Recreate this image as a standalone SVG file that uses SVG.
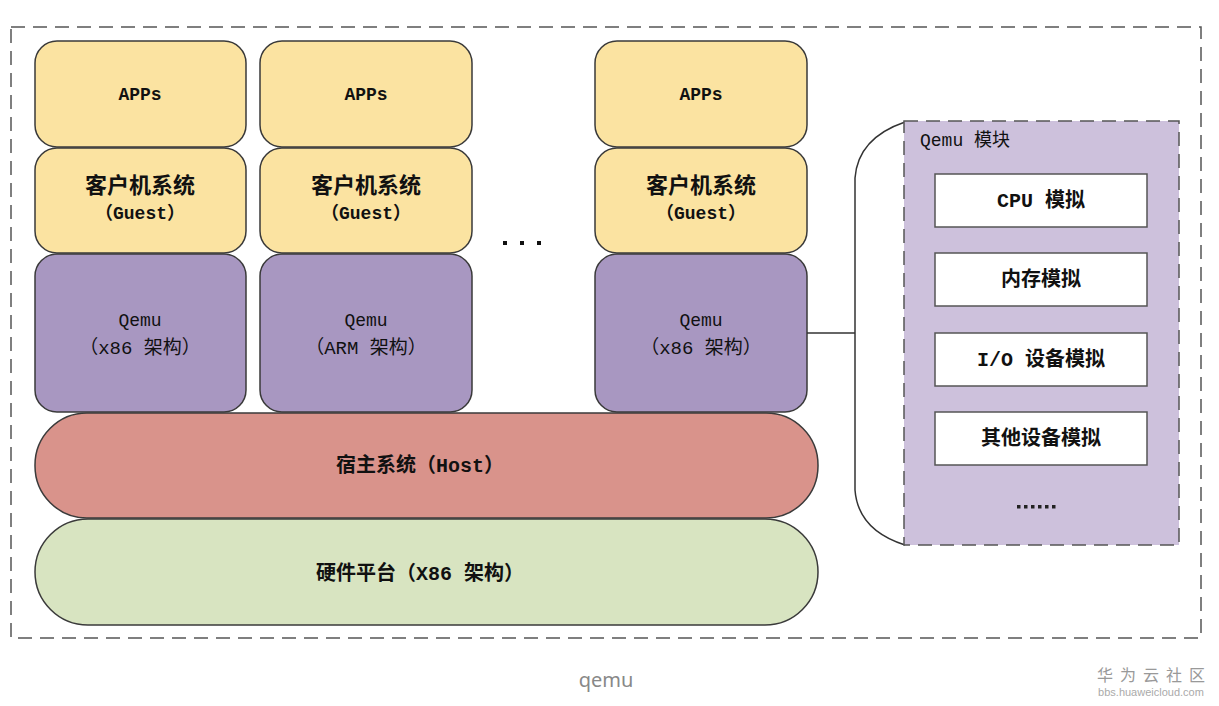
<svg xmlns="http://www.w3.org/2000/svg" width="1219" height="706" viewBox="0 0 1219 706">
<style>
.box{stroke:#3a3a3a;stroke-width:1.5}
.app{fill:#fbe3a1}
.qemu{fill:#a897c1}
.t{font-family:"Liberation Mono","Noto Sans CJK SC",monospace;fill:#111;text-anchor:middle}
.b{font-weight:bold}
.mod{fill:#fff;stroke:#555;stroke-width:1.5}
.dash{fill:none;stroke:#555;stroke-width:1.5;stroke-dasharray:14 8}
</style>
<rect width="1219" height="706" fill="#fff"/>
<rect id="outer" class="dash" x="11" y="27" width="1190" height="611"/>

<g id="col1">
<rect class="box app" x="35" y="41" width="211" height="106" rx="22"/>
<text class="t b" x="140" y="100" font-size="18">APPs</text>
<rect class="box app" x="35" y="148" width="211" height="105" rx="22"/>
<text class="t b" x="140" y="193" font-size="22">客户机系统</text>
<text class="t b" x="140" y="219" font-size="18">（Guest）</text>
<rect class="box qemu" x="35" y="254" width="211" height="158" rx="22"/>
<text class="t" x="140" y="326" font-size="18">Qemu</text>
<text class="t" x="140" y="354" font-size="19">（x86 架构）</text>
</g>

<g id="col2">
<rect class="box app" x="260" y="41" width="212" height="106" rx="22"/>
<text class="t b" x="366" y="100" font-size="18">APPs</text>
<rect class="box app" x="260" y="148" width="212" height="105" rx="22"/>
<text class="t b" x="366" y="193" font-size="22">客户机系统</text>
<text class="t b" x="366" y="219" font-size="18">（Guest）</text>
<rect class="box qemu" x="260" y="254" width="212" height="158" rx="22"/>
<text class="t" x="366" y="326" font-size="18">Qemu</text>
<text class="t" x="366" y="354" font-size="19">（ARM 架构）</text>
</g>

<g id="dots" fill="#111">
<rect x="503" y="241" width="4" height="4"/>
<rect x="520" y="241" width="4" height="4"/>
<rect x="537" y="241" width="4" height="4"/>
</g>

<g id="col3">
<rect class="box app" x="595" y="41" width="212" height="106" rx="22"/>
<text class="t b" x="701" y="100" font-size="18">APPs</text>
<rect class="box app" x="595" y="148" width="212" height="105" rx="22"/>
<text class="t b" x="701" y="193" font-size="22">客户机系统</text>
<text class="t b" x="701" y="219" font-size="18">（Guest）</text>
<rect class="box qemu" x="595" y="254" width="212" height="158" rx="22"/>
<text class="t" x="701" y="326" font-size="18">Qemu</text>
<text class="t" x="701" y="354" font-size="19">（x86 架构）</text>
</g>

<g id="host">
<rect class="box" fill="#d9938b" x="35" y="413" width="783" height="105" rx="52"/>
<text class="t b" x="420" y="472" font-size="20">宿主系统（Host）</text>
</g>

<g id="hardware">
<rect class="box" fill="#d8e4c1" x="35" y="519" width="783" height="106" rx="53"/>
<text class="t b" x="420" y="580" font-size="20">硬件平台（X86 架构）</text>
</g>

<g id="connectors" fill="none" stroke="#333" stroke-width="1.5">
<line x1="807" y1="333" x2="855" y2="333"/>
<path d="M905,122 Q858,138 855,178 L855,490 Q858,530 905,545"/>
</g>

<g id="qemu-module">
<rect fill="#cdc1dc" stroke="#555" stroke-width="1.5" stroke-dasharray="14 8" x="904" y="121" width="275" height="424"/>
<text class="t" x="920" y="146" font-size="18" style="text-anchor:start">Qemu 模块</text>
</g>
<g id="cpu">
<rect class="mod" x="935" y="174" width="212" height="53"/>
<text class="t b" x="1041" y="207" font-size="20">CPU 模拟</text>
</g>
<g id="mem">
<rect class="mod" x="935" y="253" width="212" height="53"/>
<text class="t b" x="1041" y="286" font-size="20">内存模拟</text>
</g>
<g id="io">
<rect class="mod" x="935" y="333" width="212" height="53"/>
<text class="t b" x="1041" y="366" font-size="20">I/O 设备模拟</text>
</g>
<g id="other">
<rect class="mod" x="935" y="412" width="212" height="53"/>
<text class="t b" x="1041" y="445" font-size="20">其他设备模拟</text>
</g>
<g id="more" fill="#222">
<rect x="1017" y="505" width="3.5" height="3.5"/>
<rect x="1024" y="505" width="3.5" height="3.5"/>
<rect x="1031" y="505" width="3.5" height="3.5"/>
<rect x="1038" y="505" width="3.5" height="3.5"/>
<rect x="1045" y="505" width="3.5" height="3.5"/>
<rect x="1052" y="505" width="3.5" height="3.5"/>
</g>

<text x="606" y="687" font-family="'Noto Sans','Noto Sans CJK SC',sans-serif" font-size="20" fill="#888" text-anchor="middle">qemu</text>
<text x="1097" y="681" font-family="'Noto Sans CJK SC',sans-serif" font-size="16" fill="#999" letter-spacing="7">华为云社区</text>
<text x="1151" y="696" font-family="'Liberation Sans',sans-serif" font-size="11" fill="#aaa" text-anchor="middle">bbs.huaweicloud.com</text>
</svg>
